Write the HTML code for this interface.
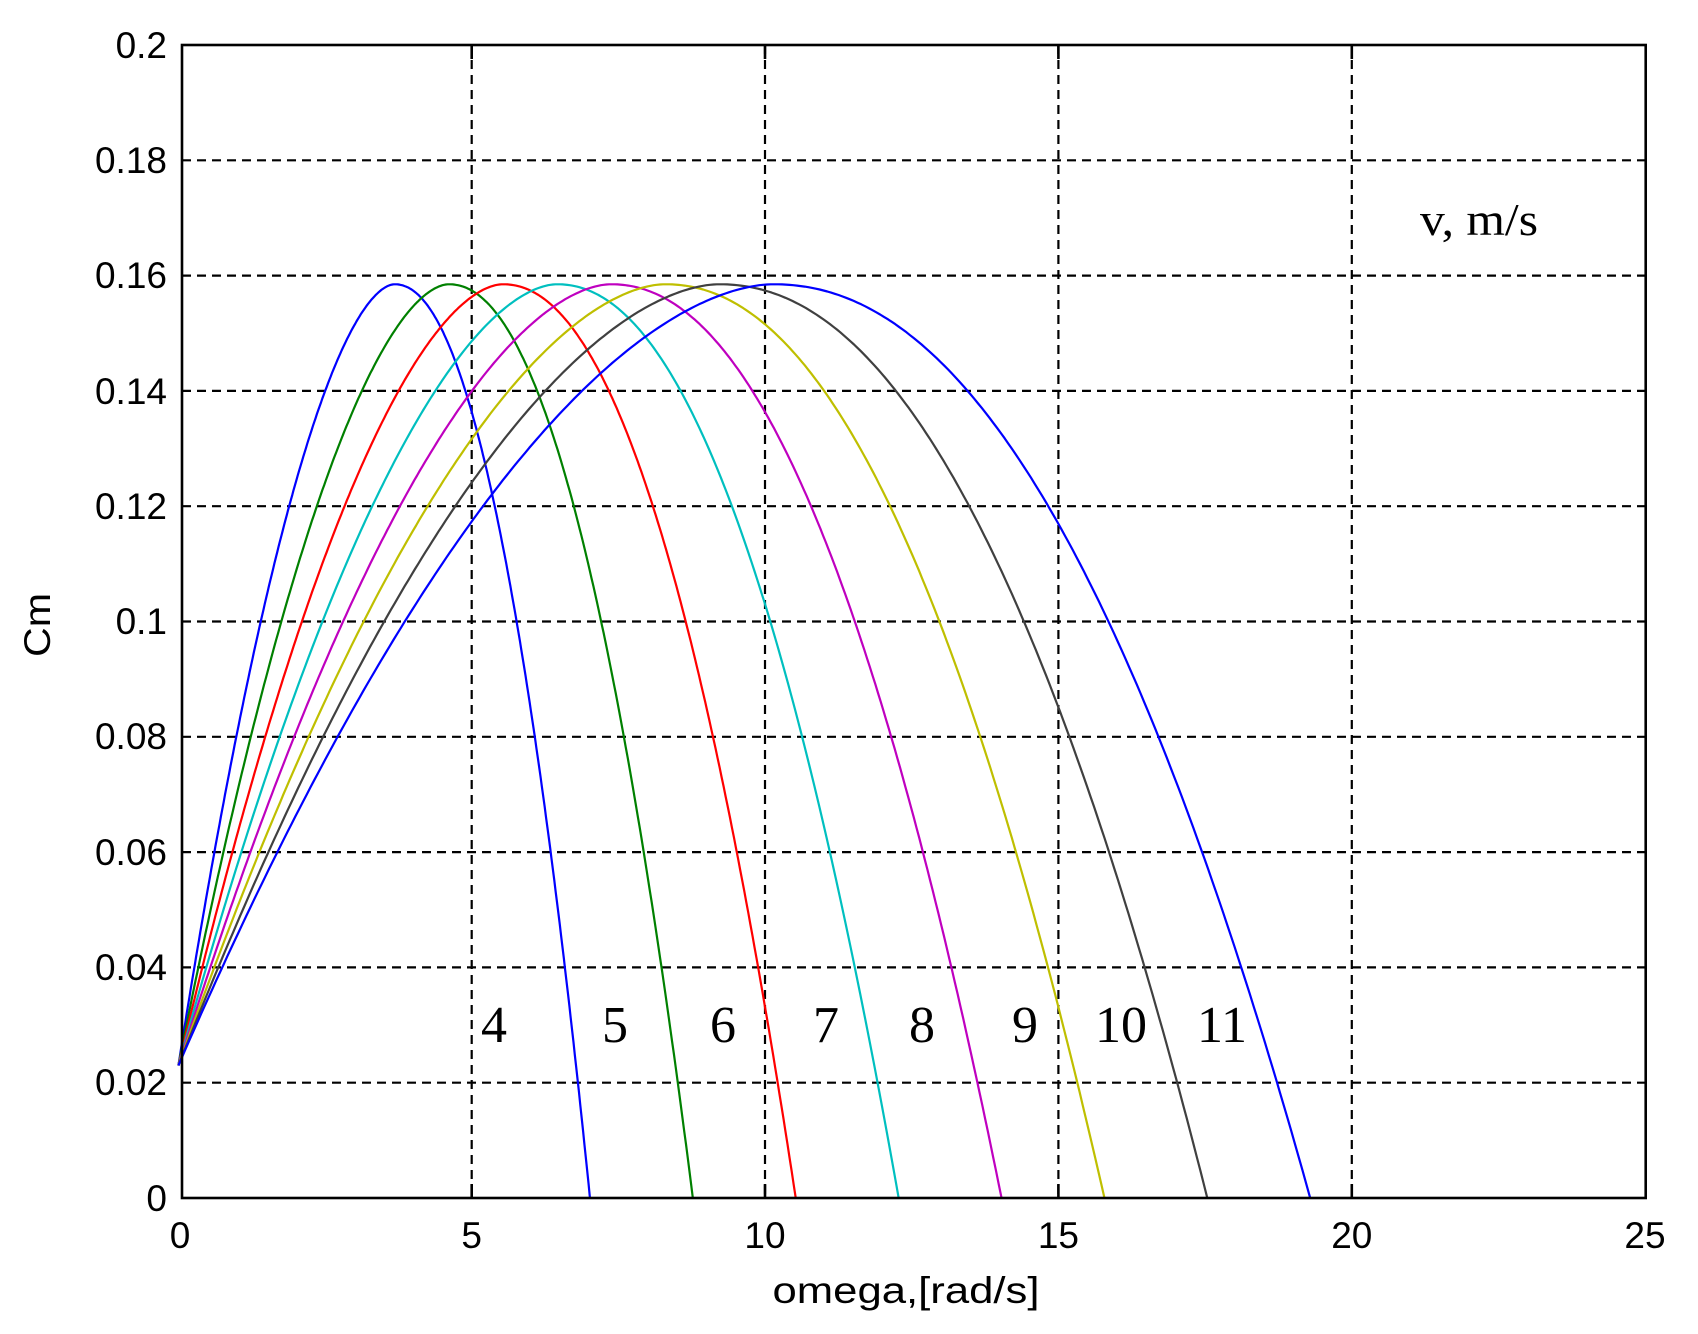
<!DOCTYPE html>
<html><head><meta charset="utf-8"><style>
html,body{margin:0;padding:0;background:#fff;}
svg{display:block;}
text{font-family:"Liberation Sans",sans-serif;fill:#000;}
.s{font-family:"Liberation Serif",serif;}
</style></head><body>
<svg id="c" width="1698" height="1334" viewBox="0 0 1698 1334" xmlns="http://www.w3.org/2000/svg">
<rect width="1698" height="1334" fill="#fff"/>
<g id="grid" stroke="#000" stroke-width="2.2" stroke-dasharray="9,6" fill="none">
<line x1="471.7" y1="45" x2="471.7" y2="1198"/>
<line x1="765" y1="45" x2="765" y2="1198"/>
<line x1="1058.4" y1="45" x2="1058.4" y2="1198"/>
<line x1="1351.8" y1="45" x2="1351.8" y2="1198"/>
<line x1="182" y1="1082.7" x2="1645" y2="1082.7"/>
<line x1="182" y1="967.4" x2="1645" y2="967.4"/>
<line x1="182" y1="852.1" x2="1645" y2="852.1"/>
<line x1="182" y1="736.8" x2="1645" y2="736.8"/>
<line x1="182" y1="621.5" x2="1645" y2="621.5"/>
<line x1="182" y1="506.2" x2="1645" y2="506.2"/>
<line x1="182" y1="390.9" x2="1645" y2="390.9"/>
<line x1="182" y1="275.6" x2="1645" y2="275.6"/>
<line x1="182" y1="160.3" x2="1645" y2="160.3"/>
</g>
<g id="curves" fill="none" stroke-width="2.2" stroke-linejoin="round"></g>
<rect x="182" y="45" width="1463.7" height="1153" fill="none" stroke="#000" stroke-width="2.6"/>
<g stroke="#000" stroke-width="2.6">
<line x1="471.7" y1="1198" x2="471.7" y2="1184"/><line x1="765" y1="1198" x2="765" y2="1184"/>
<line x1="1058.4" y1="1198" x2="1058.4" y2="1184"/><line x1="1351.8" y1="1198" x2="1351.8" y2="1184"/>
<line x1="471.7" y1="45" x2="471.7" y2="59"/><line x1="765" y1="45" x2="765" y2="59"/>
<line x1="1058.4" y1="45" x2="1058.4" y2="59"/><line x1="1351.8" y1="45" x2="1351.8" y2="59"/>
</g>
<g font-size="37" text-anchor="end">
<text x="167" y="58">0.2</text>
<text x="167" y="173">0.18</text>
<text x="167" y="288">0.16</text>
<text x="167" y="404">0.14</text>
<text x="167" y="519">0.12</text>
<text x="167" y="634">0.1</text>
<text x="167" y="749">0.08</text>
<text x="167" y="865">0.06</text>
<text x="167" y="980">0.04</text>
<text x="167" y="1095">0.02</text>
<text x="167" y="1211">0</text>
</g>
<g font-size="37" text-anchor="middle">
<text x="180" y="1248">0</text>
<text x="471.7" y="1248">5</text>
<text x="765" y="1248">10</text>
<text x="1058.4" y="1248">15</text>
<text x="1351.8" y="1248">20</text>
<text x="1645" y="1248">25</text>
<text x="906" y="1303" textLength="267" lengthAdjust="spacingAndGlyphs">omega,[rad/s]</text>
<text transform="translate(50,625) rotate(-90)" textLength="64" lengthAdjust="spacingAndGlyphs">Cm</text>
</g>
<text class="s" x="1420" y="235" font-size="46" textLength="118" lengthAdjust="spacingAndGlyphs">v, m/s</text>
<g class="s" font-size="52" text-anchor="middle">
<text class="s" x="494" y="1042">4</text>
<text class="s" x="615" y="1042">5</text>
<text class="s" x="723" y="1042">6</text>
<text class="s" x="826" y="1042">7</text>
<text class="s" x="922" y="1042">8</text>
<text class="s" x="1025" y="1042">9</text>
<text class="s" x="1121" y="1042">10</text>
<text class="s" x="1222" y="1042">11</text>
</g>
</svg>
<script>
(function(){
function f(x){
  if(x<=0.92) return 0.1585-0.1568*Math.pow(0.92-x,1.75);
  return 0.1585-0.2334*Math.pow(x-0.92,2.12);
}
var cols=["#0000ff","#008000","#ff0000","#00bfbf","#bf00bf","#bfbf00","#404040","#0000ff"];
var g=document.getElementById("curves"),s="";
for(var v=4;v<=11;v++){var pts=[];for(var k=0;k<=300;k++){var x=1.753*k/300,w=x*v,y=Math.max(0,f(x));pts.push((178.4+58.69*w).toFixed(1)+","+(1198-5765*y).toFixed(1));}
s+='<polyline stroke="'+cols[v-4]+'" points="'+pts.join(" ")+'"/>';}
g.innerHTML=s;
})();
</script>
</body></html>
